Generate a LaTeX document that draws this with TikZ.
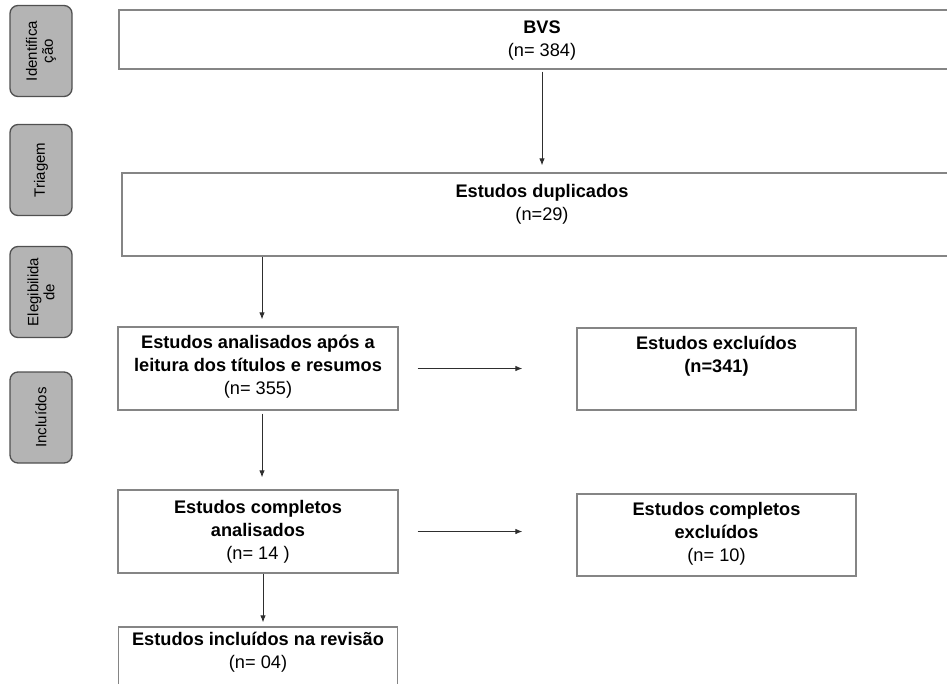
\documentclass[tikz,border=0pt]{standalone}
\usepackage{fontspec}
\setmainfont{Liberation Sans}
\usetikzlibrary{arrows.meta, positioning}
\definecolor{framegray}{HTML}{858585}
\definecolor{sidegray}{HTML}{B4B4B4}
\definecolor{sideedge}{HTML}{505050}
\definecolor{arrowgray}{HTML}{2E2E2E}

% box text: width, height, top gap, lines
\newcommand{\flowtext}[4]{\parbox[c][#2][t]{#1}{\centering\vspace*{#3}#4\par}}

\tikzset{
  flowbox/.style={draw=framegray, line width=1.3pt, inner sep=0pt,
    font=\fontsize{18.2}{23}\selectfont},
  stagebox/.style={draw=sideedge, fill=sidegray, line width=1.3pt,
    rounded corners=8pt, rotate=90, minimum width=91pt, minimum height=62pt,
    align=center, inner sep=2pt, font=\fontsize{15}{16}\selectfont},
  flowarrow/.style={draw=arrowgray, line width=0.9pt,
    -{Latex[length=7pt,width=5.5pt]}}
}

\begin{document}
\begin{tikzpicture}[x=1pt, y=-1pt]
\useasboundingbox (0,0) rectangle (947,683);
\clip (0,0) rectangle (947,683);

% stages
\node [stagebox] (sid) at (41,51) {Identifica\\ção};
\node [stagebox] (stri) at (41,170) {Triagem};
\node [stagebox] (sele) at (41,292) {Elegibilida\\de};
\node [stagebox] (sinc) at (41,417.5) {Incluídos};

% boxes
\node [flowbox] (bvs) at (542,39.5) {\flowtext{846pt}{59pt}{11pt}{\textbf{BVS}\\(n= 384)}};
\node [flowbox] (dup) at (542,214.5) {\flowtext{840pt}{83pt}{11pt}{\textbf{Estudos duplicados}\\(n=29)}};
\node [flowbox] (anal) at (258,368.5) {\flowtext{280pt}{83pt}{8pt}{\textbf{Estudos analisados após a}\\\textbf{leitura dos títulos e resumos}\\(n= 355)}};
\node [flowbox] (excl) at (716.5,369) {\flowtext{279pt}{82pt}{8pt}{\textbf{Estudos excluídos}\\\textbf{(n=341)}}};
\node [flowbox] (comp) at (258,531.5) {\flowtext{280pt}{83pt}{10pt}{\textbf{Estudos completos}\\\textbf{analisados}\\(n= 14 )}};
\node [flowbox] (cexcl) at (716.5,535) {\flowtext{279pt}{82pt}{8pt}{\textbf{Estudos completos}\\\textbf{excluídos}\\(n= 10)}};
\node [flowbox] (incl) at (258,668.5) {\flowtext{279pt}{83pt}{5pt}{\textbf{Estudos incluídos na revisão}\\(n= 04)}};

% arrows
\draw [flowarrow, shorten <=2pt, shorten >=7pt] (bvs) -- (dup);
\draw [flowarrow, shorten >=7pt] ([xshift=4pt]dup.south -| anal.north) -- ([xshift=4pt]anal.north);
\draw [flowarrow, shorten <=3pt, shorten >=12pt] ([xshift=4pt]anal.south) -- ([xshift=4pt]comp.north);
\draw [flowarrow, shorten >=4pt] ([xshift=5pt]comp.south) -- ([xshift=5pt]incl.north);
\draw [flowarrow, shorten <=19pt, shorten >=54pt] (anal.east) -- (anal.east -| excl.west);
\draw [flowarrow, shorten <=19pt, shorten >=54pt] (comp.east) -- (comp.east -| cexcl.west);
\end{tikzpicture}
\end{document}
